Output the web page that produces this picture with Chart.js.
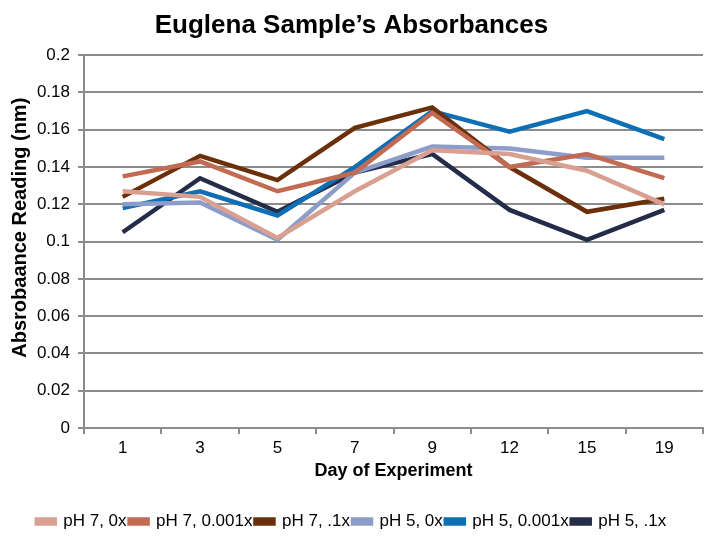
<!DOCTYPE html>
<html>
<head>
<meta charset="utf-8">
<script src="https://cdn.jsdelivr.net/npm/chart.js@4.4.0/dist/chart.umd.min.js"></script>
<style>
  html, body { margin: 0; padding: 0; background: #fff; }
  #c { display: block; }
</style>
</head>
<body>
<canvas id="c" width="720" height="540"></canvas>
<script>
// Days sampled
const days = ['1', '3', '5', '7', '9', '12', '15', '19'];

// Absorbance readings per sample
const ph7_0x    = [0.127, 0.124, 0.102, 0.127, 0.149, 0.147, 0.138, 0.120];
const ph7_001x  = [0.135, 0.143, 0.127, 0.137, 0.169, 0.140, 0.147, 0.134];
const ph7_1x    = [0.124, 0.146, 0.133, 0.161, 0.172, 0.140, 0.116, 0.123];
const ph5_0x    = [0.120, 0.121, 0.101, 0.137, 0.151, 0.150, 0.145, 0.145];
const ph5_001x  = [0.118, 0.127, 0.114, 0.140, 0.170, 0.159, 0.170, 0.155];
const ph5_1x    = [0.105, 0.134, 0.116, 0.137, 0.147, 0.117, 0.101, 0.117];

const seriesNames = ['pH 7, 0x', 'pH 7, 0.001x', 'pH 7, .1x', 'pH 5, 0x', 'pH 5, 0.001x', 'pH 5, .1x'];
const seriesData = [ph7_0x, ph7_001x, ph7_1x, ph5_0x, ph5_001x, ph5_1x];
const seriesColors = ['#d9a091', '#c26a52', '#6b300a', '#8c9dc9', '#0f6fb5', '#232c48'];

const FONT = '"Liberation Sans", Arial, sans-serif';
const GRID = '#8c8c8c';

new Chart(document.getElementById('c').getContext('2d'), {
  type: 'line',
  data: {
    labels: days,
    datasets: seriesNames.map((name, i) => ({
      label: name,
      data: seriesData[i],
      borderColor: seriesColors[i],
      backgroundColor: seriesColors[i],
      borderWidth: 4.5,
      pointRadius: 0,
      tension: 0,
      fill: false,
    })),
  },
  options: {
    responsive: false,
    animation: false,
    devicePixelRatio: 1,
    layout: { padding: { left: 0, right: 17, top: 0, bottom: 0 } },
    plugins: {
      title: {
        display: true,
        text: 'Euglena Sample\u2019s Absorbances',
        color: '#000',
        font: { family: FONT, size: 26, weight: 'bold' },
        padding: { top: 10, bottom: 14 },
      },
      legend: {
        position: 'bottom',
        labels: {
          color: '#000',
          font: { family: FONT, size: 17 },
          boxWidth: 18,
          boxHeight: 4,
          padding: 3,
        },
      },
      tooltip: { enabled: false },
    },
    scales: {
      x: {
        offset: true,
        grid: { offset: true, drawOnChartArea: false, color: GRID, lineWidth: 2, tickLength: 6 },
        border: { color: GRID, width: 2 },
        ticks: { color: '#000', font: { family: FONT, size: 17 }, padding: 4 },
        title: { display: true, text: 'Day of Experiment', color: '#000', font: { family: FONT, size: 18, weight: 'bold' }, padding: { top: -2, bottom: 28 } },
      },
      y: {
        min: 0,
        max: 0.2,
        afterFit: (s) => { s.width = 84; },
        grid: { color: GRID, lineWidth: 2, tickLength: 6 },
        border: { color: GRID, width: 2 },
        ticks: { stepSize: 0.02, color: '#000', font: { family: FONT, size: 17 }, padding: 8,
          callback: (v) => String(Math.round(v * 100) / 100) },
        title: { display: true, text: '     Absrobaance Reading (nm)', color: '#000', font: { family: FONT, size: 20, weight: 'bold' }, padding: { top: 8, bottom: 0 } },
      },
    },
  },
});
</script>
</body>
</html>
